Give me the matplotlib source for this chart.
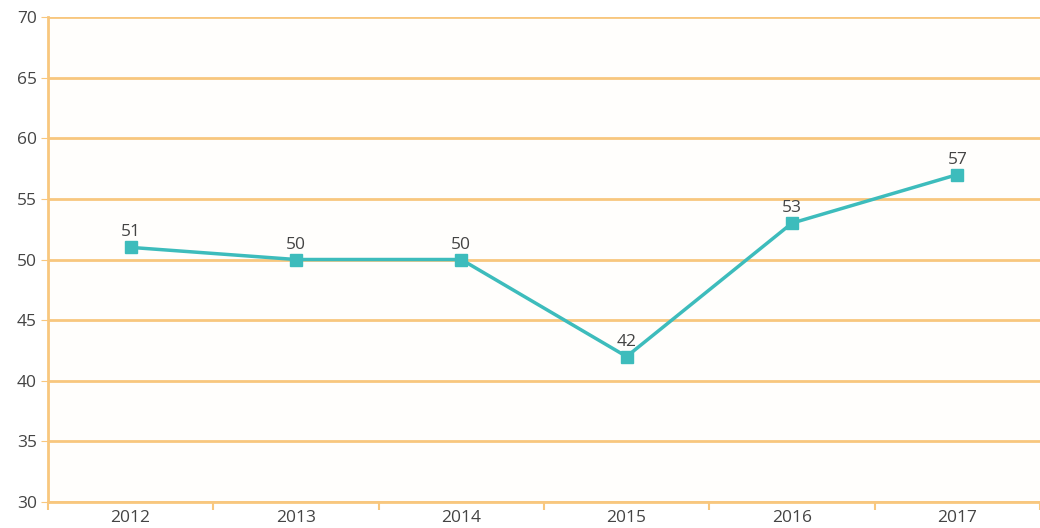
import matplotlib
matplotlib.use("Agg")
import matplotlib.pyplot as plt
import numpy as np

plt.rcParams['font.family'] = ['Open Sans', 'DejaVu Sans']

years = ['2012', '2013', '2014', '2015', '2016', '2017']
values = [51, 50, 50, 42, 53, 57]

grid_color = '#f8c77e'
line_color = '#3dbcbc'
text_color = '#444444'

fig = plt.figure(figsize=(10.4, 5.28), dpi=100)
ax = fig.add_axes([0.046, 0.049, 0.954, 0.919])
fig.patch.set_facecolor('white')
ax.set_facecolor('#fffefc')

x = np.arange(len(years))
ax.plot(x, values, color=line_color, linewidth=2.5, marker='s',
        markersize=8.5, markerfacecolor=line_color, markeredgecolor=line_color,
        zorder=3)

# value labels above each point
for xi, v in zip(x, values):
    ax.annotate(str(v), (xi, v), xytext=(0, 5), textcoords='offset points',
                ha='center', va='bottom', fontsize=12.5, color=text_color)

ax.set_xlim(-0.5, len(years) - 0.5)
ax.set_ylim(30, 70)
ax.set_yticks(range(30, 71, 5))
ax.set_xticks(x)
ax.set_xticklabels(years)
ax.set_xticks(np.arange(-0.5, len(years)), minor=True)

ax.yaxis.grid(True, color=grid_color, linewidth=2)
ax.set_axisbelow(True)

for side in ['top', 'right']:
    ax.spines[side].set_visible(False)
ax.spines['left'].set_color(grid_color)
ax.spines['left'].set_linewidth(2)
ax.spines['bottom'].set_color(grid_color)
ax.spines['bottom'].set_linewidth(2)

ax.tick_params(axis='y', length=5, color=grid_color, labelsize=12.5,
               labelcolor=text_color, pad=3)
ax.tick_params(axis='x', which='major', length=0, labelsize=12.5,
               labelcolor=text_color, pad=6)
ax.tick_params(axis='x', which='minor', length=6, color=grid_color, width=1.5)

fig.savefig('out.png', dpi=100)
